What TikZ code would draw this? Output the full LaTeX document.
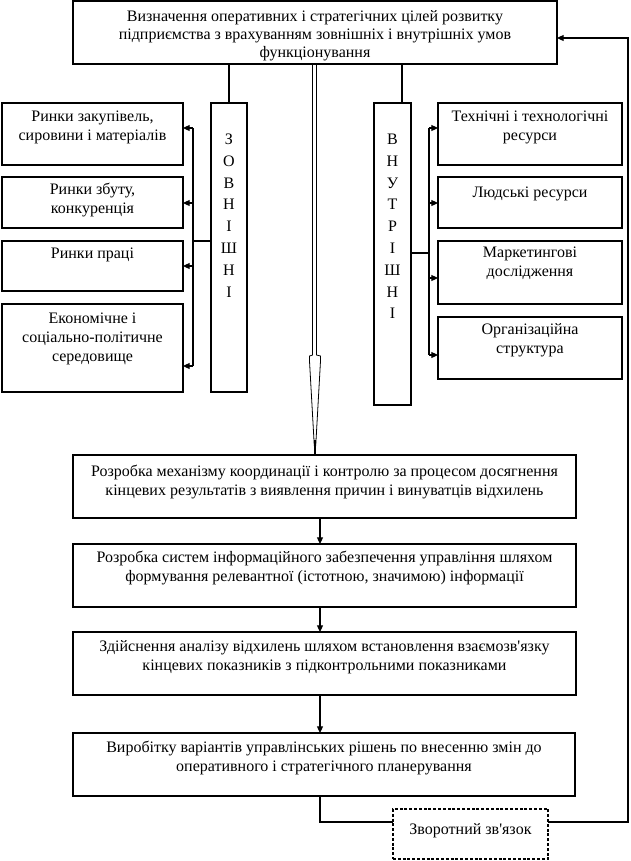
\documentclass[tikz,border=0pt]{standalone}
\usepackage{fontspec}
\setmainfont{Liberation Serif}[Ligatures=TeXOff]
\usetikzlibrary{arrows.meta}
\tikzset{
  boxst/.style={draw, line width=0.8pt, inner sep=0pt, outer sep=0pt, anchor=north west,
    font=\fontsize{12}{14.4}\selectfont},
  dashst/.style={boxst, dash pattern=on 2.2pt off 1.4pt},
  conn/.style={line width=0.8pt},
  arr/.style={conn, -{Triangle[length=5pt,width=4.5pt]}},
  dbl/.style={line width=0.6pt},
}
% box: [baseline offset px]{name}{x1}{y1}{x2}{y2}{text}
\newcommand\bx[7][18]{\node[boxst] (#2) at (#3,#4)
  {\parbox[c][\dimexpr0.75pt*(#6-#4)\relax][t]{\dimexpr0.75pt*(#5-#3)\relax}{\centering\rule{0pt}{\dimexpr0.75pt*#1\relax}#7\par}};}
% vertical-letter box: {name}{x1}{y1}{x2}{y2}{letters}
\newcommand\vbx[6]{\node[boxst] (#1) at (#2,#3)
  {\parbox[c][\dimexpr0.75pt*(#5-#3)\relax][t]{\dimexpr0.75pt*(#4-#2)\relax}{\centering\baselineskip=16.35pt\rule{0pt}{31.1pt}#6\par}};}
\begin{document}
\begin{tikzpicture}[x=0.75pt,y=-0.75pt]
\useasboundingbox (0,0) rectangle (631,861);

\bx[20]{top}{73}{1}{557}{64}{\fontsize{12}{13.5}\selectfont Визначення оперативних і стратегічних цілей розвитку\\ підприємства з врахуванням зовнішніх і внутрішніх умов\\ функціонування}

\bx{la}{2}{103}{183}{165}{Ринки закупівель,\\ сировини і матеріалів}
\bx[17]{lb}{2}{177}{183}{228}{Ринки збуту,\\ конкуренція}
\bx[17]{lc}{2}{241}{183}{291}{Ринки праці}
\bx[19]{ld}{2}{304}{183}{392}{Економічне і\\ соціально-політичне\\ середовище}

\vbx{zovn}{211}{103}{247}{392}{З\\О\\В\\Н\\І\\Ш\\Н\\І}
\vbx{vnut}{374}{103}{411}{405}{В\\Н\\У\\Т\\Р\\І\\Ш\\Н\\І}

\bx{ra}{438}{103}{622}{165}{Технічні і технологічні\\ ресурси}
\bx[20]{rb}{438}{177}{622}{228}{Людські ресурси}
\bx[16]{rc}{438}{241}{622}{304}{Маркетингові\\ дослідження}
\bx[17]{rd}{438}{317}{622}{379}{Організаційна\\ структура}

\bx[21]{b1}{73}{455}{576}{518}{Розробка механізму координації і контролю за процесом досягнення\\ кінцевих результатів з виявлення причин і винуватців відхилень}
\bx{b2}{73}{544}{576}{607}{Розробка систем інформаційного забезпечення управління шляхом\\ формування релевантної (істотною, значимою) інформації}
\bx[19]{b3}{73}{632}{576}{695}{Здійснення аналізу відхилень шляхом встановлення взаємозв'язку\\ кінцевих показників з підконтрольними показниками}
\bx[19]{b4}{73}{733}{575}{796}{Виробітку варіантів управлінських рішень по внесенню змін до\\ оперативного і стратегічного планерування}

\node[dashst] (fb) at (393,809)
  {\parbox[c][\dimexpr0.75pt*50\relax][t]{\dimexpr0.75pt*155\relax}{\centering\rule{0pt}{18.75pt}Зворотний зв'язок\par}};

% top box to the two columns
\coordinate (vt) at (402,103);
\draw[conn] (zovn.north |- top.south) -- (zovn.north);
\draw[conn] (vt |- top.south) -- (vt);

% left bus
\coordinate (lj) at (193,241);
\draw[conn] (zovn.west |- lj) -- (lj);
\draw[conn] (193,128) -- (193,366);
\foreach \n/\y in {la/128, lb/203, lc/266, ld/366}
  \draw[arr] (193,\y) -- (\n.east |- 193,\y);

% right bus
\coordinate (rj) at (429,253);
\draw[conn] (vnut.east |- rj) -- (rj);
\draw[conn] (429,128) -- (429,355);
\foreach \n/\y in {ra/128, rb/203, rc/278, rd/355}
  \draw[arr] (429,\y) -- (\n.west |- 429,\y);

% double shaft with tapered head
\draw[dbl] (312.5,64) -- (312.5,355) -- (309.5,356) -- (309.5,361) -- (314.3,446);
\draw[dbl] (316.5,64) -- (316.5,355) -- (320.5,356) -- (320.5,361) -- (315.7,446);
\coordinate (dx) at (315,440);
\draw[conn] (dx) -- (b1.north -| dx);

% main chain
\coordinate (mx) at (320,0);
\draw[arr] (b1.south -| mx) -- (b2.north -| mx);
\draw[arr] (b2.south -| mx) -- (b3.north -| mx);
\draw[arr] (b3.south -| mx) -- (b4.north -| mx);

% feedback
\coordinate (fy) at (0,822);
\coordinate (rx) at (628,38);
\draw[conn] (b4.south -| mx) -- (mx |- fy) -- (fb.west |- fy);
\draw[arr] (fb.east |- fy) -- (rx |- fy) -- (rx) -- (top.east |- rx);
\end{tikzpicture}
\end{document}
